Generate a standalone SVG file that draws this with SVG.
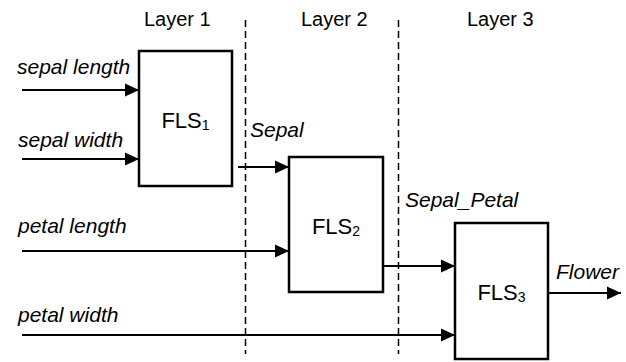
<svg xmlns="http://www.w3.org/2000/svg" width="626" height="362" viewBox="0 0 626 362">
<style>
.box{fill:#fff;stroke:#000;stroke-width:2.5}
.ar{fill:none;stroke:#000;stroke-width:2;marker-end:url(#ah)}
.dash{fill:none;stroke:#000;stroke-width:1.5;stroke-dasharray:7 4}
.t{font-family:"Liberation Sans",Arial,sans-serif;font-size:20px;fill:#000}
.i{font-style:italic;font-size:21px}
.f{font-family:"Liberation Sans",Arial,sans-serif;font-size:22px;fill:#000;text-anchor:middle}
.sub{font-size:14px}
</style>
<defs>
<marker id="ah" markerUnits="userSpaceOnUse" markerWidth="14" markerHeight="14" viewBox="0 0 14 14" refX="14" refY="7" orient="auto">
<path d="M0,0.5 L14,7 L0,13.5 Z" fill="#000"/>
</marker>
</defs>
<g id="layers">
<line class="dash" x1="245.5" y1="20" x2="245.5" y2="354"/>
<line class="dash" x1="398.5" y1="20" x2="398.5" y2="354"/>
<text class="t" x="144" y="26">Layer 1</text>
<text class="t" x="301" y="26">Layer 2</text>
<text class="t" x="467" y="26">Layer 3</text>
</g>
<g id="connectors">
<line class="ar" x1="22" y1="90" x2="139" y2="90"/>
<line class="ar" x1="22" y1="159" x2="139" y2="159"/>
<line class="ar" x1="238" y1="167" x2="289" y2="167"/>
<line class="ar" x1="22" y1="251" x2="289" y2="251"/>
<line class="ar" x1="383" y1="266" x2="455" y2="266"/>
<line class="ar" x1="22" y1="335" x2="455" y2="335"/>
<line class="ar" x1="548" y1="293" x2="621" y2="293"/>
<text class="t i" x="17" y="74">sepal length</text>
<text class="t i" x="18" y="147">sepal width</text>
<text class="t i" x="250" y="137">Sepal</text>
<text class="t i" x="18" y="233">petal length</text>
<text class="t i" x="18" y="322">petal width</text>
<text class="t i" x="405" y="207">Sepal_Petal</text>
<text class="t i" x="556" y="279">Flower</text>
</g>
<g id="fls1">
<rect class="box" x="139" y="51" width="93" height="135"/>
<text class="f" x="185.5" y="128">FLS<tspan class="sub" dy="2">1</tspan></text>
</g>
<g id="fls2">
<rect class="box" x="289" y="157" width="94" height="135"/>
<text class="f" x="336" y="234">FLS<tspan class="sub" dy="2">2</tspan></text>
</g>
<g id="fls3">
<rect class="box" x="455" y="223" width="93" height="136"/>
<text class="f" x="501.5" y="300">FLS<tspan class="sub" dy="2">3</tspan></text>
</g>
</svg>
